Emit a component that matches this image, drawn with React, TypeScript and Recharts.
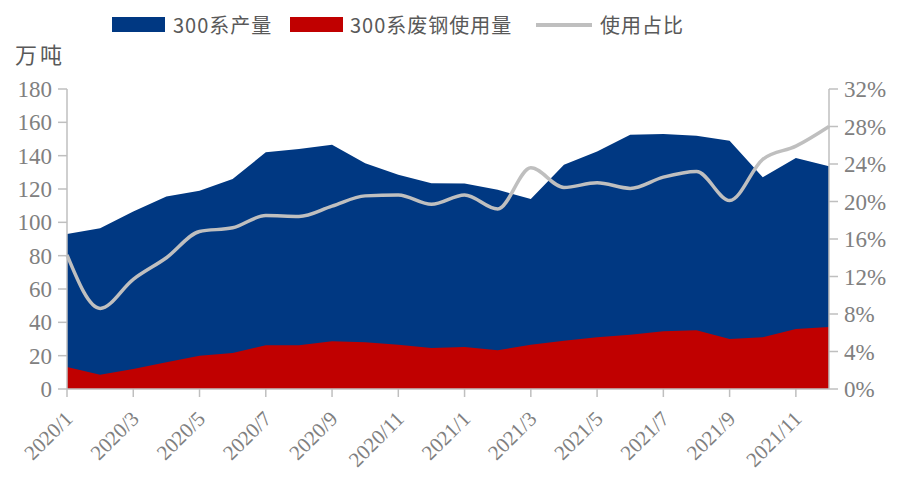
import React from 'react';
import { ComposedChart, Area, Line, XAxis, YAxis } from 'recharts';

const months = [
  '2020/1','2020/2','2020/3','2020/4','2020/5','2020/6','2020/7','2020/8','2020/9','2020/10','2020/11','2020/12',
  '2021/1','2021/2','2021/3','2021/4','2021/5','2021/6','2021/7','2021/8','2021/9','2021/10','2021/11','2021/12',
];
const production = [93, 96.5, 106.5, 115.5, 119, 126, 142, 144, 146.5, 135.5, 128.5, 123.5,
  123.3, 119.5, 114, 134.5, 142.5, 152.5, 153, 152, 149, 127, 138.6, 133.6];
const scrapUse = [13.2, 8.6, 12, 16, 20, 21.6, 26.2, 26.2, 28.6, 28, 26.6, 24.6,
  25.2, 23.2, 26.6, 29, 31, 32.6, 34.6, 35.2, 30, 31, 36, 37.2];
const useRatio = [0.143, 0.086, 0.117, 0.140, 0.168, 0.172, 0.185, 0.184, 0.195, 0.206, 0.207, 0.197,
  0.207, 0.192, 0.236, 0.215, 0.220, 0.214, 0.226, 0.232, 0.201, 0.245, 0.259, 0.280];
const leftTicks = [0, 20, 40, 60, 80, 100, 120, 140, 160, 180];
const rightTicks = [0, 0.04, 0.08, 0.12, 0.16, 0.2, 0.24, 0.28, 0.32];
const seriesNames = ['300系产量', '300系废钢使用量', '使用占比'];
const unitLabel = '万吨';

const data = months.map((m, i) => ({
  month: m,
  production: production[i],
  scrap: scrapUse[i],
  ratio: useRatio[i],
}));

const BLUE = '#003882';
const RED = '#c00000';
const GRAY_LINE = '#bfbfbf';
const AXIS = '#bfbfbf';
const TICK_TEXT = '#808080';
const SERIF = '"Liberation Serif", "Times New Roman", serif';
const CJK = '"Noto Sans CJK SC", "Noto Sans", sans-serif';

const XTick = (props: any) => {
  const { x, payload } = props;
  const bx = x + 7;
  const by = 420;
  return (
    <text x={bx} y={by} transform={`rotate(-45, ${bx}, ${by})`} textAnchor="end"
      fill={TICK_TEXT} style={{ fontFamily: SERIF, fontSize: 21 }}>
      {payload.value}
    </text>
  );
};

export default function App() {
  return (
    <div style={{ position: 'absolute', left: 0, top: 0, width: 897, height: 477, background: '#fff' }}>
      <ComposedChart width={897} height={477} data={data}
        margin={{ top: 89, right: 0, bottom: 0, left: 0 }}>
        <XAxis dataKey="month" scale="point" padding={{ left: 0, right: 0 }}
          interval={1} tick={<XTick />} tickSize={8}
          axisLine={{ stroke: AXIS, strokeWidth: 1.5 }} tickLine={{ stroke: AXIS, strokeWidth: 1.5 }}
          height={88} />
        <YAxis yAxisId="left" domain={[0, 180]} ticks={leftTicks} width={67} tickSize={9}
          interval={0}
          axisLine={{ stroke: AXIS, strokeWidth: 1.5 }} tickLine={{ stroke: AXIS, strokeWidth: 1.5 }}
          tick={{ fill: TICK_TEXT, style: { fontFamily: SERIF, fontSize: 23 } }} tickMargin={6} />
        <YAxis yAxisId="right" orientation="right" domain={[0, 0.32]} ticks={rightTicks} width={68}
          interval={0} tickSize={9}
          tickFormatter={(v: number) => `${Math.round(v * 100)}%`}
          axisLine={{ stroke: AXIS, strokeWidth: 1.5 }} tickLine={{ stroke: AXIS, strokeWidth: 1.5 }}
          tick={{ fill: TICK_TEXT, style: { fontFamily: SERIF, fontSize: 23 } }} tickMargin={6} />
        <Area yAxisId="left" type="linear" dataKey="production" name={seriesNames[0]}
          fill={BLUE} fillOpacity={1} stroke="none" isAnimationActive={false} />
        <Area yAxisId="left" type="linear" dataKey="scrap" name={seriesNames[1]}
          fill={RED} fillOpacity={1} stroke="none" isAnimationActive={false} />
        <Line yAxisId="right" type="monotone" dataKey="ratio" name={seriesNames[2]}
          stroke={GRAY_LINE} strokeWidth={3.5} dot={false} isAnimationActive={false} />
      </ComposedChart>

      <div style={{ position: 'absolute', left: 15, top: 37, fontFamily: CJK, fontSize: 22, color: '#595959', letterSpacing: 3, whiteSpace: 'nowrap' }}>
        {unitLabel}
      </div>

      <div style={{ position: 'absolute', left: 0, top: 10, height: 30, width: 897 }}>
        <div style={{ position: 'absolute', left: 112, top: 7, width: 53, height: 15, background: BLUE }} />
        <div style={{ position: 'absolute', left: 173, top: 0, fontFamily: CJK, fontSize: 20, color: '#595959', whiteSpace: 'nowrap', letterSpacing: 1 }}>
          {seriesNames[0]}
        </div>
        <div style={{ position: 'absolute', left: 290, top: 7, width: 53, height: 15, background: RED }} />
        <div style={{ position: 'absolute', left: 350, top: 0, fontFamily: CJK, fontSize: 20, color: '#595959', whiteSpace: 'nowrap', letterSpacing: 1 }}>
          {seriesNames[1]}
        </div>
        <div style={{ position: 'absolute', left: 536, top: 13, width: 56, height: 4, background: GRAY_LINE }} />
        <div style={{ position: 'absolute', left: 600, top: 0, fontFamily: CJK, fontSize: 20, color: '#595959', whiteSpace: 'nowrap', letterSpacing: 1 }}>
          {seriesNames[2]}
        </div>
      </div>
    </div>
  );
}
